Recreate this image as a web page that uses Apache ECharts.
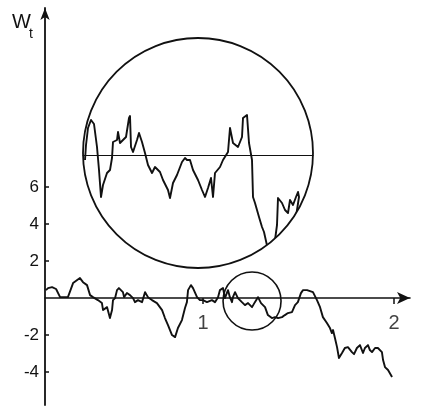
<!DOCTYPE html>
<html><head><meta charset="utf-8">
<script src="https://cdn.jsdelivr.net/npm/echarts@6/dist/echarts.min.js"></script>
<style>html,body{margin:0;padding:0;background:#fff}#c{width:422px;height:411px}</style>
</head><body><div id="c"></div>
<script>
// Main Brownian path W_t
const mainT = [0.178,0.189,0.210,0.231,0.252,0.293,0.320,0.356,0.372,0.393,0.409,0.424,0.450,0.471,0.477,0.498,0.513,0.524,0.529,0.540,0.550,0.560,0.581,0.587,0.602,0.618,0.634,0.644,0.660,0.681,0.697,0.712,0.733,0.759,0.786,0.801,0.817,0.838,0.854,0.869,0.890,0.906,0.916,0.922,0.937,0.948,0.969,0.984,1.000,1.021,1.047,1.063,1.079,1.089,1.105,1.115,1.131,1.141,1.152,1.157,1.168,1.183,1.204,1.220,1.236,1.257,1.272,1.288,1.304,1.325,1.340,1.361,1.377,1.393,1.414,1.429,1.445,1.466,1.482,1.497,1.513,1.524,1.545,1.576,1.597,1.613,1.628,1.649,1.665,1.675,1.681,1.691,1.702,1.712,1.728,1.743,1.759,1.780,1.791,1.806,1.822,1.838,1.848,1.864,1.874,1.885,1.901,1.916,1.937,1.943,1.953,1.969,1.990];
const mainW = [0.43,0.54,0.59,0.49,0.05,0.05,0.81,1.08,0.86,0.70,0.16,0.05,-0.11,-0.27,-0.65,-0.49,-1.08,-0.65,-0.11,0,0.43,0.54,0.32,0.05,0.27,0.16,0,-0.22,-0.11,-0.22,0.32,0.05,-0.11,-0.27,-0.65,-1.08,-1.46,-2.00,-2.11,-1.62,-1.19,-0.54,-0.22,0.43,0.70,0.54,0.05,-0.11,-0.11,-0.22,-0.11,-0.22,0.05,0.43,0.54,0,0.43,0.05,-0.22,0.05,0.32,0,-0.22,-0.38,-0.27,-0.49,-0.22,0.05,-0.27,-0.49,-0.92,-1.08,-1.03,-1.08,-1.03,-0.92,-0.81,-0.76,-0.38,-0.22,0.27,0.43,0.43,0.32,-0.11,-0.49,-1.03,-1.35,-1.62,-1.89,-1.73,-2.16,-2.65,-3.24,-2.97,-2.70,-2.65,-2.92,-3.03,-2.70,-2.54,-2.97,-2.70,-2.54,-2.81,-2.92,-2.70,-2.70,-2.92,-3.35,-3.73,-3.89,-4.27];

// Magnified path (inset, rescaled units)
const insetT = [0.02,0.03,0.05,0.08,0.11,0.14,0.16,0.18,0.20,0.24,0.27,0.29,0.30,0.34,0.35,0.37,0.40,0.43,0.46,0.47,0.48,0.50,0.54,0.56,0.59,0.62,0.65,0.69,0.72,0.77,0.80,0.85,0.87,0.90,0.94,0.99,1.02,1.04,1.07,1.10,1.15,1.19,1.22,1.25,1.28,1.30,1.32,1.37,1.40,1.45,1.47,1.50,1.55,1.59,1.60,1.64,1.66,1.69,1.70,1.72,1.74,1.76,1.79,1.81,1.85,1.89,1.92,1.94,1.95,1.99,2.02,2.05,2.07,2.10,2.13,2.15,2.16,2.14,2.11];
const insetW = [-0.25,0.50,1.35,1.75,1.55,0.40,-0.75,-2.10,-1.50,-0.90,-0.75,-0.15,0.65,0.75,1.15,0.60,0.75,0.90,1.85,1.95,0.40,0.15,0.75,1.10,0.65,0.10,-0.50,-0.90,-0.60,-0.85,-1.25,-1.75,-2.15,-1.40,-1.00,-0.35,-0.15,-0.25,-0.25,-0.75,-1.25,-1.75,-2.10,-1.65,-1.15,-2.10,-0.90,-0.60,-0.25,0.15,1.35,0.60,0.40,0.90,1.85,2.00,0.60,-0.25,-2.10,-2.40,-2.75,-3.10,-3.60,-3.85,-4.75,-5.15,-4.25,-3.50,-2.15,-2.40,-2.75,-2.90,-2.25,-2.50,-2.10,-1.85,-2.10,-2.75,-3.85];

const xTickValues = [1, 2];
const yTickValues = [-4, -2, 2, 4, 6];
const zoomCenter = [1.257, -0.16];

const INK = '#111';
const FONT = 'Liberation Sans';
const chart = echarts.init(document.getElementById('c'));

chart.setOption({
  animation: false,
  backgroundColor: '#fff',
  grid: [
    {left: 45, top: 8, width: 365, height: 397, containLabel: false, outerBoundsMode: 'none'},
    {left: 83, top: 38, width: 230, height: 230, containLabel: false, outerBoundsMode: 'none'}
  ],
  xAxis: [
    {type: 'value', gridIndex: 0, min: 0.173, max: 2.084,
     axisLine: {onZero: true, symbol: ['none', 'arrow'], symbolSize: [9, 13], lineStyle: {color: INK, width: 1.6}},
     axisTick: {customValues: xTickValues, length: 6, lineStyle: {color: INK, width: 1.5}},
     axisLabel: {show: false},
     splitLine: {show: false}},
    {type: 'value', gridIndex: 1, min: 0, max: 2.3,
     axisLine: {onZero: true, lineStyle: {color: INK, width: 1.2}},
     axisTick: {show: false}, axisLabel: {show: false}, splitLine: {show: false}}
  ],
  yAxis: [
    {type: 'value', gridIndex: 0, min: -5.78, max: 15.68,
     axisLine: {symbol: ['none', 'arrow'], symbolSize: [7, 12], lineStyle: {color: INK, width: 1.8}},
     axisTick: {customValues: yTickValues, inside: true, length: 4, lineStyle: {color: INK, width: 1.5}},
     axisLabel: {customValues: yTickValues, color: INK, fontSize: 17, margin: 6, fontFamily: FONT},
     splitLine: {show: false}},
    {type: 'value', gridIndex: 1, min: -5.65, max: 5.85, show: false,
     splitLine: {show: false}}
  ],
  graphic: [
    {type: 'text', left: 12, top: 12, style: {text: 'W', fontSize: 20, fontFamily: FONT, fill: INK}},
    {type: 'text', left: 29, top: 27, style: {text: 't', fontSize: 14, fontFamily: FONT, fill: INK}}
  ],
  series: [
    {type: 'line', xAxisIndex: 0, yAxisIndex: 0, showSymbol: false, symbol: 'none',
     data: mainT.map((t, i) => [t, mainW[i]]),
     lineStyle: {color: INK, width: 1.9, join: 'round'}},
    // x tick labels placed on the zero line through the axis scale
    {type: 'scatter', xAxisIndex: 0, yAxisIndex: 0, symbolSize: 0, silent: true,
     data: xTickValues.map(v => [v, 0]),
     label: {show: true, position: 'bottom', distance: 15, formatter: p => String(p.value[0]),
             color: INK, fontSize: 20, fontFamily: FONT}},
    {type: 'custom', xAxisIndex: 0, yAxisIndex: 0, data: [zoomCenter],
     renderItem: function (params, api) {
       const c = api.coord([api.value(0), api.value(1)]);
       return {type: 'circle', shape: {cx: c[0], cy: c[1], r: 29},
               style: {stroke: INK, lineWidth: 1.6, fill: 'none'}};
     }},
    {type: 'custom', xAxisIndex: 1, yAxisIndex: 1,
     data: insetT.map((t, i) => [t, insetW[i]]),
     renderItem: function (params, api) {
       if (params.dataIndex !== 0) return null;
       const cs = params.coordSys;
       const cx = cs.x + cs.width / 2, cy = cs.y + cs.height / 2, r = cs.width / 2;
       const pts = insetT.map((t, i) => api.coord([t, insetW[i]]));
       return {type: 'group', children: [
         {type: 'polyline', shape: {points: pts},
          style: {stroke: INK, lineWidth: 1.9, fill: 'none', lineJoin: 'round'},
          clipPath: {type: 'circle', shape: {cx: cx, cy: cy, r: r}}},
         {type: 'circle', shape: {cx: cx, cy: cy, r: r},
          style: {stroke: INK, lineWidth: 1.8, fill: 'none'}}
       ]};
     }}
  ]
});
</script></body></html>
